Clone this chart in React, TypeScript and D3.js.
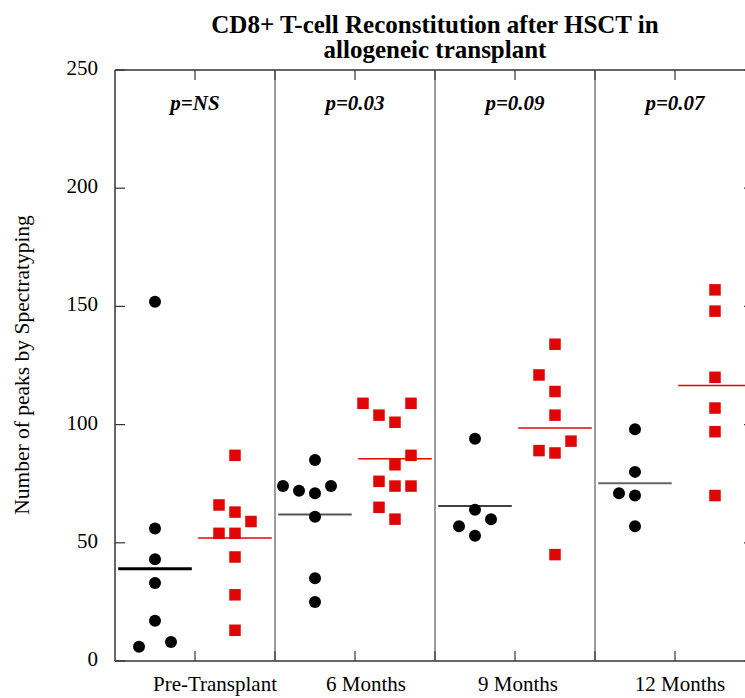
import React from "react";
import * as d3 from "d3";

const TITLE_LINES = ["CD8+ T-cell Reconstitution after HSCT in", "allogeneic transplant"];
const Y_LABEL = "Number of peaks by Spectratyping";
const GROUPS = ["Pre-Transplant", "6 Months", "9 Months", "12 Months"];
const P_LABELS = ["p=NS", "p=0.03", "p=0.09", "p=0.07"];
const Y_TICKS = [0, 50, 100, 150, 200, 250];

const BLACK_VALUES = [
  [152, 56, 43, 33, 17, 6, 8],
  [85, 74, 72, 71, 74, 61, 35, 25],
  [94, 64, 60, 57, 53],
  [98, 80, 71, 70, 57],
];
const BLACK_COLS = [
  [0, 0, 0, 0, 0, -1, 1],
  [0, -2, -1, 0, 1, 0, 0, 0],
  [0, 0, 1, -1, 0],
  [0, 0, -1, 0, 0],
];
const RED_VALUES = [
  [87, 66, 63, 59, 54, 54, 44, 28, 13],
  [109, 109, 104, 101, 87, 83, 76, 74, 74, 65, 60],
  [134, 121, 114, 104, 93, 89, 88, 45],
  [157, 148, 120, 107, 97, 70],
];
const RED_COLS = [
  [0, -1, 0, 1, -1, 0, 0, 0, 0],
  [-2, 1, -1, 0, 1, 0, -1, 0, 1, -1, 0],
  [0, -1, 0, 0, 1, -1, 0, 0],
  [0, 0, 0, 0, 0, 0],
];
const BLACK_LINES = [39, 62, 65.6, 75.2];
const RED_LINES = [52, 85.6, 98.6, 116.5];

// styles
const W = 745;
const H = 698;
const LEFT = 115;
const RIGHT = 755;
const TOP = 70;
const BOTTOM = 661;
const RED = "#e00606";
const SERIF = "'Liberation Serif', 'Times New Roman', serif";
const BLACK_LINE_STYLE = [
  { w: 3, c: "#000" },
  { w: 2, c: "#555" },
  { w: 1.5, c: "#000" },
  { w: 2, c: "#666" },
];
const LABEL_SHIFT = [20, 11, 3, 5];
const COL_STEP = 0.2;
const HALF_LINE = 0.46;

export default function App() {
  const x = d3.scaleLinear().domain([0, 8]).range([LEFT, RIGHT]);
  const y = d3.scaleLinear().domain([0, 250]).range([BOTTOM, TOP]);

  return (
    <svg
      width={W}
      height={H}
      style={{ position: "absolute", left: 0, top: 0, background: "#fff" }}
      fontFamily={SERIF}
    >
      <rect x={0} y={0} width={W} height={H} fill="#fff" />
      {/* title */}
      {TITLE_LINES.map((t, i) => (
        <text
          key={i}
          x={(LEFT + RIGHT) / 2}
          y={33 + i * 25}
          textAnchor="middle"
          fontWeight="bold"
          fontSize={25}
          fill="#000"
        >
          {t}
        </text>
      ))}
      {/* y label */}
      <text
        transform={`translate(29,365) rotate(-90)`}
        textAnchor="middle"
        fontSize={21.5}
        fill="#000"
      >
        {Y_LABEL}
      </text>
      {/* dividers */}
      {[2, 4, 6].map((d) => (
        <line key={d} x1={x(d)} x2={x(d)} y1={TOP} y2={BOTTOM} stroke="#666" strokeWidth={1.3} />
      ))}
      {/* frame */}
      <line x1={LEFT} x2={LEFT} y1={TOP} y2={BOTTOM} stroke="#333" strokeWidth={1.5} />
      <line x1={RIGHT} x2={RIGHT} y1={TOP} y2={BOTTOM} stroke="#333" strokeWidth={1.5} />
      <line x1={LEFT} x2={RIGHT} y1={TOP} y2={TOP} stroke="#333" strokeWidth={1.5} />
      <line x1={LEFT} x2={RIGHT} y1={BOTTOM} y2={BOTTOM} stroke="#333" strokeWidth={1.5} />
      {/* y ticks */}
      {Y_TICKS.map((t) => (
        <g key={t}>
          <line x1={LEFT} x2={LEFT + 10} y1={y(t)} y2={y(t)} stroke="#333" strokeWidth={1.2} />
          <line x1={RIGHT - 11} x2={RIGHT} y1={y(t)} y2={y(t)} stroke="#333" strokeWidth={1.2} />
          <text x={98} y={y(t) + 5} textAnchor="end" fontSize={21} fill="#000">
            {t}
          </text>
        </g>
      ))}
      {/* x ticks */}
      {[1, 2, 3, 4, 5, 6, 7].map((t) => (
        <g key={t}>
          <line x1={x(t)} x2={x(t)} y1={BOTTOM} y2={BOTTOM - 10} stroke="#444" strokeWidth={1.3} />
          <line x1={x(t)} x2={x(t)} y1={TOP} y2={TOP + 10} stroke="#444" strokeWidth={1.3} />
        </g>
      ))}
      {/* x labels */}
      {GROUPS.map((g, i) => (
        <text
          key={g}
          x={x(2 * i + 1) + LABEL_SHIFT[i]}
          y={691}
          textAnchor="middle"
          fontSize={21}
          fill="#000"
        >
          {g}
        </text>
      ))}
      {/* p labels */}
      {P_LABELS.map((p, i) => (
        <text
          key={p}
          x={x(2 * i + 1)}
          y={110}
          textAnchor="middle"
          fontSize={21}
          fontWeight="bold"
          fontStyle="italic"
          fill="#000"
        >
          {p}
        </text>
      ))}
      {/* median lines */}
      {BLACK_LINES.map((v, i) => (
        <line
          key={"bl" + i}
          x1={x(2 * i + 0.5 - HALF_LINE)}
          x2={x(2 * i + 0.5 + HALF_LINE)}
          y1={y(v)}
          y2={y(v)}
          stroke={BLACK_LINE_STYLE[i].c}
          strokeWidth={BLACK_LINE_STYLE[i].w}
        />
      ))}
      {RED_LINES.map((v, i) => (
        <line
          key={"rl" + i}
          x1={x(2 * i + 1.5 - HALF_LINE)}
          x2={x(2 * i + 1.5 + HALF_LINE)}
          y1={y(v)}
          y2={y(v)}
          stroke={RED}
          strokeWidth={1.5}
        />
      ))}
      {/* points */}
      {BLACK_VALUES.map((vals, i) =>
        vals.map((v, j) => (
          <circle
            key={"b" + i + "-" + j}
            cx={x(2 * i + 0.5 + BLACK_COLS[i][j] * COL_STEP)}
            cy={y(v)}
            r={6}
            fill="#000"
          />
        ))
      )}
      {RED_VALUES.map((vals, i) =>
        vals.map((v, j) => (
          <rect
            key={"r" + i + "-" + j}
            x={x(2 * i + 1.5 + RED_COLS[i][j] * COL_STEP) - 5.75}
            y={y(v) - 5.75}
            width={11.5}
            height={11.5}
            fill={RED}
          />
        ))
      )}
    </svg>
  );
}
